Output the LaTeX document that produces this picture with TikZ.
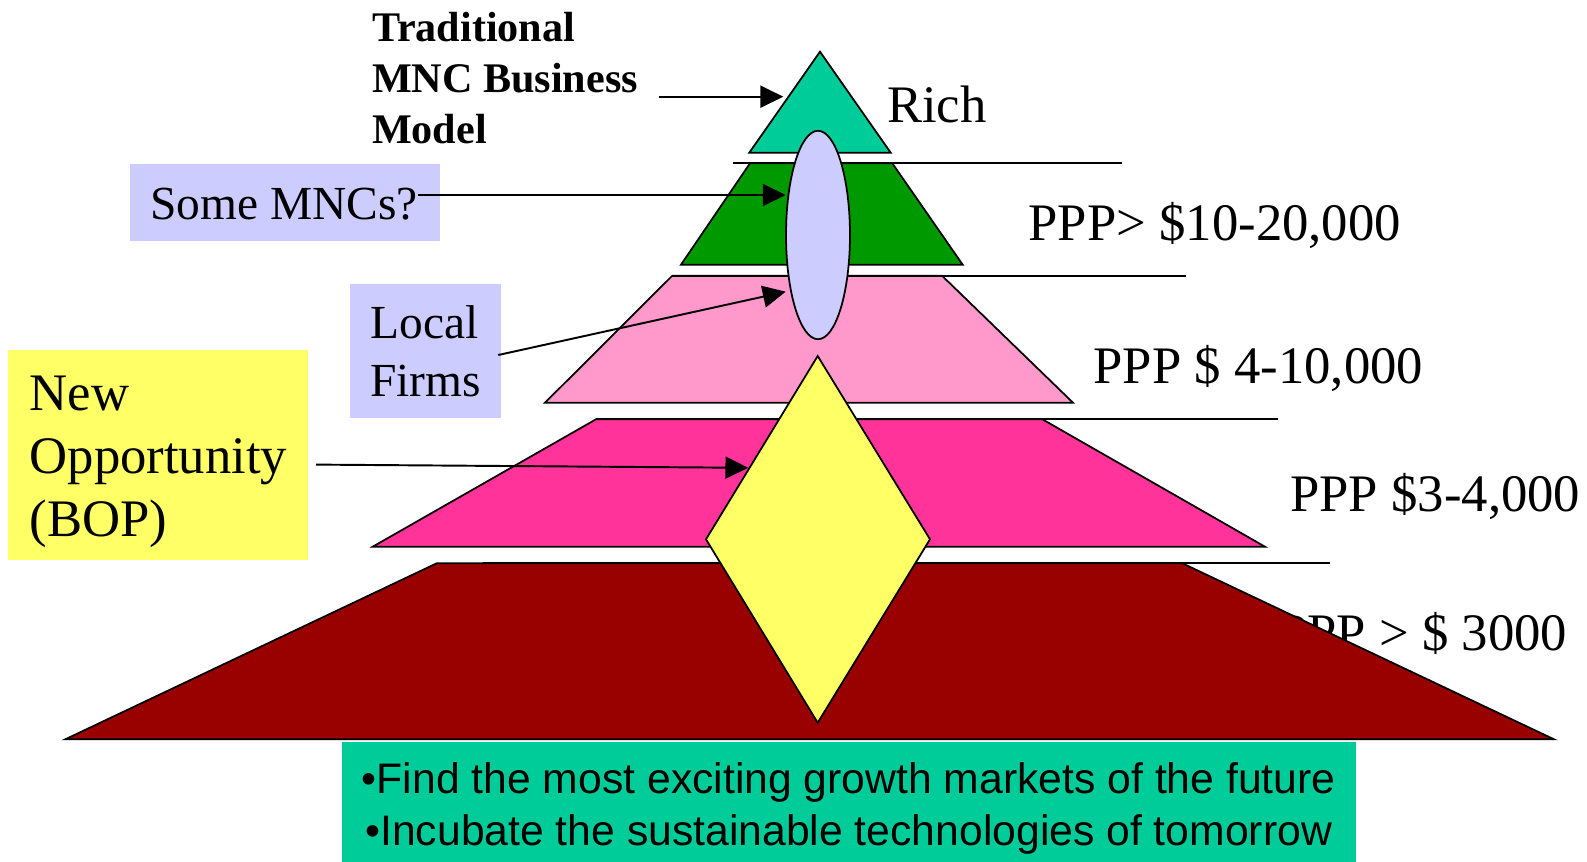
\documentclass[tikz,border=0pt]{standalone}
\usepackage{fontspec}
\setmainfont{Liberation Serif}
\setsansfont{Liberation Sans}
\usetikzlibrary{positioning, arrows.meta, shapes.geometric}

\definecolor{richteal}{HTML}{00CC99}
\definecolor{upgreen}{HTML}{009900}
\definecolor{midpink}{HTML}{FF99CC}
\definecolor{hotpink}{HTML}{FF3399}
\definecolor{bopred}{HTML}{990000}
\definecolor{lilac}{HTML}{CCCCFF}
\definecolor{lemon}{HTML}{FFFF66}

\begin{document}
\begin{tikzpicture}
    [x=0.02cm, y=-0.02cm,
     tier/.style={draw=black, line width=1pt},
     rule/.style={line width=1pt},
     pointer/.style={line width=1.1pt, -{Triangle[length=13pt, width=12.5pt]}},
     income/.style={inner sep=0pt, anchor=base west, font=\fontsize{30}{36}\selectfont},
     panel/.style={inner sep=0pt, anchor=north west}]

    \useasboundingbox (0,0) rectangle (1587,862);

    \node[income] (poorppp) at (1278,650.7) {PPP > \$ 3000};

    \fill[bopred, tier] (436.7,563.3) -- (1182.4,563.3) -- (1554,739.3) -- (65.3,739.3) -- cycle;
    \fill[hotpink, tier] (596,419.3) -- (1042.4,419.3) -- (1265,546.7) -- (372.7,546.7) -- cycle;
    \fill[midpink, tier] (672.3,275.7) -- (942,275.7) -- (1073,402.7) -- (545,402.7) -- cycle;
    \fill[upgreen, tier] (750,163.3) -- (892.3,163.3) -- (962.7,264.7) -- (681,264.7) -- cycle;
    \fill[richteal, tier] (820,51.7) -- (890.7,152.7) -- (749.3,152.7) -- cycle;

    \draw[rule] (733.3,163.3) -- (1122,163.3);
    \draw[rule] (672.3,275.7) -- (1186,275.7);
    \draw[rule] (596,419.3) -- (1277.7,419.3);
    \draw[rule] (483,563.3) -- (1330,563.3);

    \node[ellipse, draw, line width=1pt, fill=lilac, inner sep=0pt,
          minimum width=1.28cm, minimum height=4.17cm] (mncoval) at (818,235) {};
    \draw[tier, fill=lemon] (817.7,356) -- (930,539.3) -- (817.7,722.7) -- (706,539.3) -- cycle;

    \node[income] (rich) at (886.7,122.7) {Rich};
    \node[income] (upperppp) at (1028.3,240.7) {PPP> \$10-20,000};
    \node[income] (midppp) at (1093.3,383.3) {PPP \$ 4-10,000};
    \node[income] (lowppp) at (1290,511.7) {PPP \$3-4,000};

    \node[inner sep=0pt, anchor=base west, align=left,
          font=\fontsize{24}{28.9}\selectfont\bfseries] (trad) at (371.7,143.3)
        {Traditional\\MNC Business\\Model};

    \node[panel, fill=lilac, minimum width=6.21cm, minimum height=1.548cm] (mncbox) at (129.5,163.3) {};
    \node[inner sep=0pt, anchor=base west, font=\fontsize{27}{32}\selectfont] (mncs) at (149.8,219.6) {Some MNCs?};

    \node[panel, fill=lilac, minimum width=3.02cm, minimum height=2.688cm] (localbox) at (350,283.3) {};
    \node[inner sep=0pt, anchor=base west, align=left, font=\fontsize{27}{32.8}\selectfont]
        (local) at (370,396) {Local\\Firms};

    \node[panel, fill=lemon, minimum width=5.986cm, minimum height=4.214cm] (bopbox) at (8,349.3) {};
    \node[inner sep=0pt, anchor=base west, align=left, font=\fontsize{30}{36}\selectfont]
        (bop) at (29.3,536.7) {New\\Opportunity\\(BOP)};

    \node[panel, fill=richteal, minimum width=20.28cm, minimum height=2.406cm] (goalbox) at (341.7,741.7) {};
    \node[inner sep=0pt, anchor=base, align=center, font=\sffamily\fontsize{24.3}{29.4}\selectfont]
        (goals) at (848.7,845)
        {•Find the most exciting growth markets of the future\\
         •Incubate the sustainable technologies of tomorrow};

    \coordinate (tradfrom) at (659,96.7);
    \coordinate (tradtip) at (783.3,96.7);
    \coordinate (mncsfrom) at (418.3,195);
    \coordinate (mncstip) at (785.7,195);
    \coordinate (localfrom) at (498.3,355);
    \coordinate (localtip) at (785.7,291.7);
    \coordinate (bopfrom) at (316,464.6);
    \coordinate (boptip) at (748.3,467.8);

    \draw[pointer] (tradfrom) -- (tradtip);
    \draw[pointer] (mncsfrom) -- (mncstip);
    \draw[pointer] (localfrom) -- (localtip);
    \draw[pointer] (bopfrom) -- (boptip);
\end{tikzpicture}
\end{document}
